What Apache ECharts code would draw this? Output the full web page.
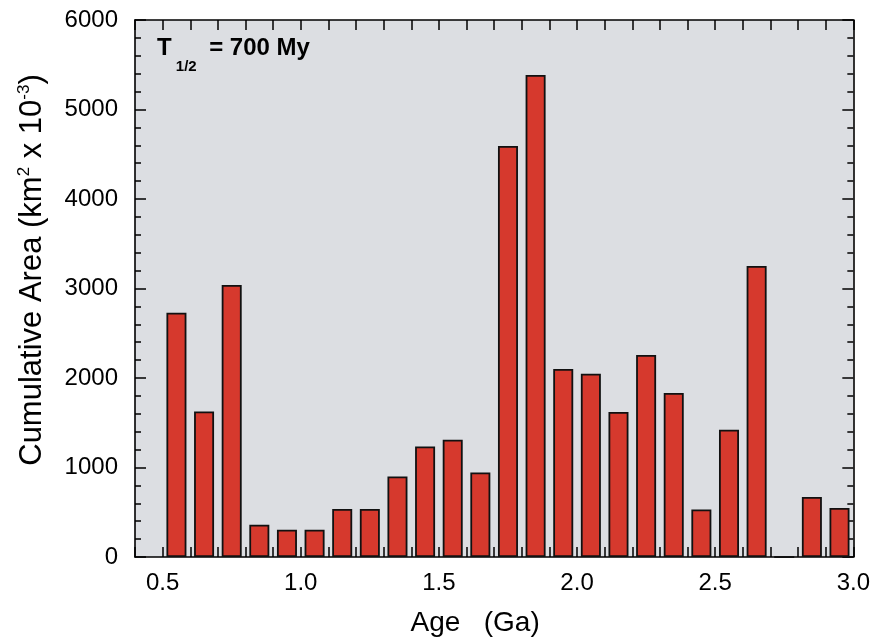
<!DOCTYPE html>
<html>
<head>
<meta charset="utf-8">
<script src="https://cdn.jsdelivr.net/npm/echarts@6/dist/echarts.min.js"></script>
<style>
  html, body { margin: 0; padding: 0; background: #ffffff; }
  #chart { width: 873px; height: 644px; }
</style>
</head>
<body>
<div id="chart"></div>
<script>
// Bin centres (Ga) and cumulative area values (km^2 x 10^-3)
const ages = [0.55, 0.65, 0.75, 0.85, 0.95, 1.05, 1.15, 1.25, 1.35, 1.45, 1.55, 1.65, 1.75,
              1.85, 1.95, 2.05, 2.15, 2.25, 2.35, 2.45, 2.55, 2.65, 2.75, 2.85, 2.95];
const areas = [2730, 1625, 3040, 360, 305, 305, 536, 536, 900, 1236, 1311, 945, 4592,
               5385, 2100, 2048, 1620, 2257, 1832, 530, 1423, 3251, 0, 670, 547];
const xLabels = ['0.5', '1.0', '1.5', '2.0', '2.5', '3.0'];
const yLabels = ['0', '1000', '2000', '3000', '4000', '5000', '6000'];

const FONT = "'Liberation Sans', Arial, Helvetica, sans-serif";
const axisLineStyle = { color: '#000', width: 1.6 };

const chart = echarts.init(document.getElementById('chart'), null, { renderer: 'canvas' });

const xCommon = {
  type: 'value', min: 0.4, max: 3.0, interval: 0.1,
  axisLine: { show: true, onZero: false, lineStyle: axisLineStyle },
  axisTick: { show: true, inside: true, length: 10, lineStyle: { color: '#000', width: 1.5 } },
  splitLine: { show: false }
};
const yCommon = {
  type: 'value', min: 0, max: 6000, interval: 1000,
  axisLine: { show: true, onZero: false, lineStyle: axisLineStyle },
  axisTick: { show: true, inside: true, length: 11, lineStyle: { color: '#000', width: 1.5 } },
  minorTick: { show: true, splitNumber: 5, length: 6, lineStyle: { color: '#000', width: 1.5 } },
  splitLine: { show: false }, minorSplitLine: { show: false }
};

const option = {
  backgroundColor: '#ffffff',
  animation: false,
  textStyle: { fontFamily: FONT },
  grid: {
    left: 135, right: 15, top: 20, bottom: 87,
    show: true, backgroundColor: '#DCDEE2', borderWidth: 0
  },
  xAxis: [
    Object.assign({}, xCommon, {
      position: 'bottom',
      name: 'Age   (Ga)', nameLocation: 'middle', nameGap: 51,
      nameTextStyle: { fontFamily: FONT, fontSize: 28, color: '#000', lineHeight: 30, padding: [0, 38, 0, 0] },
      axisLabel: {
        show: true, margin: 14, fontFamily: FONT, fontSize: 24, color: '#000',
        formatter: function (v) {
          const s = (Math.round(v * 10) / 10).toFixed(1);
          return xLabels.indexOf(s) >= 0 ? s : '';
        }
      }
    }),
    Object.assign({}, xCommon, { position: 'top', axisLabel: { show: false } })
  ],
  yAxis: [
    Object.assign({}, yCommon, {
      position: 'left',
      name: '{m|Cumulative Area (km}{s|2}{m| x 10}{s|-3}{m|)}',
      nameLocation: 'middle', nameGap: 87,
      nameTextStyle: {
        fontFamily: FONT, fontSize: 31, color: '#000', padding: [0, 0, 0, 37],
        rich: {
          m: { fontFamily: FONT, fontSize: 31, lineHeight: 32, color: '#000' },
          s: { fontFamily: FONT, fontSize: 17, lineHeight: 21, verticalAlign: 'top', color: '#000' }
        }
      },
      axisLabel: {
        show: true, margin: 17, fontFamily: FONT, fontSize: 24, color: '#000',
        formatter: function (v) {
          const s = String(Math.round(v));
          return yLabels.indexOf(s) >= 0 ? s : '';
        }
      }
    }),
    Object.assign({}, yCommon, { position: 'right', axisLabel: { show: false } })
  ],
  graphic: [{
    type: 'text', left: 157, top: 36, z: 100,
    style: {
      text: '{t|T}{s| 1/2   }{t|= 700 My}',
      fill: '#000',
      rich: {
        t: { fontFamily: FONT, fontSize: 24, fontWeight: 'bold', lineHeight: 28, verticalAlign: 'top', fill: '#000' },
        s: { fontFamily: FONT, fontSize: 15, fontWeight: 'bold', lineHeight: 62, fill: '#000' }
      }
    }
  }],
  series: [{
    type: 'bar',
    xAxisIndex: 0, yAxisIndex: 0,
    barWidth: 20,
    data: ages.map(function (a, i) { return [a, areas[i]]; }),
    itemStyle: { color: '#D6392D', borderColor: '#111', borderWidth: 1.8 },
    emphasis: { disabled: true }
  }]
};
chart.setOption(option);
</script>
</body>
</html>
